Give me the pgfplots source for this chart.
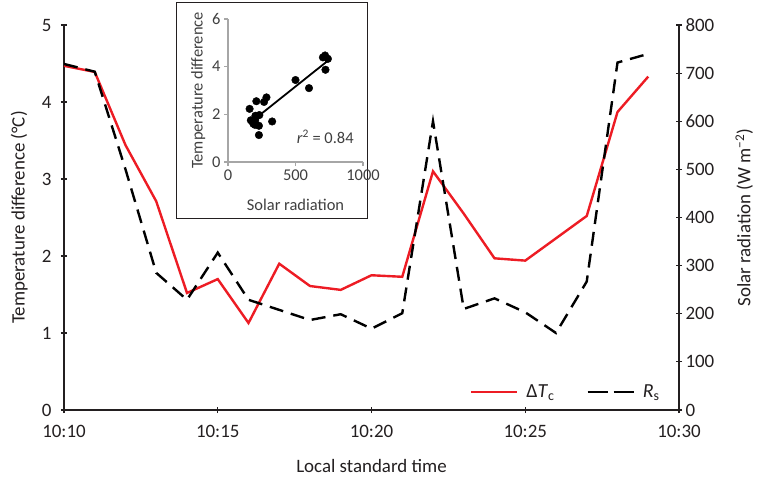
\documentclass[border=0pt]{standalone}
\usepackage{pgfplots}
\pgfplotsset{compat=1.18}
\usepackage{pgfplotstable}
\usepackage{fontspec}
\setmainfont{Carlito}

\definecolor{tcred}{RGB}{237,28,36}
\definecolor{axgray}{RGB}{35,31,32}
\definecolor{insetgray}{RGB}{166,166,166}
\definecolor{insettext}{RGB}{64,64,64}

% minute after 10:10, temperature difference (C), solar radiation (W m-2)
\pgfplotstableread{
t  dT   Rs
0  4.47 719
1  4.39 703
2  3.44 500
3  2.71 285
4  1.52 229
5  1.70 327
6  1.13 229
7  1.90 208
8  1.61 187
9  1.56 199
10 1.75 169
11 1.73 201
12 3.10 600
13 2.55 210
14 1.97 232
15 1.94 203
16 2.23 160
17 2.52 267
18 3.87 722
19 4.33 740
}\obs

\begin{document}
\begin{tikzpicture}
\pgfplotsset{
  mainax/.style={
    scale only axis, width=615bp, height=385bp,
    xmin=0, xmax=20,
    axis line style={axgray, line width=1.2bp},
    tick style={axgray, line width=1.2bp},
    tick align=outside, major tick length=6bp,
    tick label style={font=\fontsize{19}{23}\selectfont, text=axgray},
    /pgf/number format/assume math mode=true,
  },
}
\begin{axis}[mainax,
  axis x line=bottom, axis y line=left,
  x axis line style={-}, y axis line style={-},
  ymin=0, ymax=5, ytick={0,1,...,5},
  xtick={0,5,10,15,20},
  xticklabels={10:10,10:15,10:20,10:25,10:30},
  xticklabel style={yshift=-9bp},
  yticklabel style={xshift=-6bp},
  xlabel={Local standard time},
  ylabel={Temperature difference (°C)},
  every axis x label/.style={at={(axis description cs:0.5,-0.145)}, anchor=center,
    font=\fontsize{19}{23}\selectfont, text=axgray},
  every axis y label/.style={at={(axis description cs:-0.073,0.5)}, anchor=center, rotate=90,
    font=\fontsize{19}{23}\selectfont, text=axgray},
]
\addplot[tcred, line width=2.4bp] table[x=t, y=dT] {\obs};
\end{axis}

\begin{axis}[mainax,
  axis x line=none, axis y line=right,
  y axis line style={-},
  ymin=0, ymax=800, ytick={0,100,...,800},
  ylabel={Solar radiation (W m\textsuperscript{−2})},
  every axis y label/.style={at={(axis description cs:1.106,0.5)}, anchor=center, rotate=90,
    font=\fontsize{19}{23}\selectfont, text=axgray},
  legend style={at={(axis description cs:0.977,0.047)}, anchor=east,
    draw=none, fill=none, font=\fontsize{20}{24}\selectfont, text=axgray,
    legend columns=2, /tikz/every even column/.append style={column sep=30bp}},
  legend image code/.code={\draw[#1] (0bp,0bp) -- (46bp,0bp); \path (52bp,0bp);},
]
\addlegendimage{tcred, line width=2.4bp}
\addlegendentry{Δ\textit{T}\textsubscript{c}}
\addplot[black, line width=2.4bp, dash pattern=on 14bp off 8bp, forget plot] table[x=t, y=Rs] {\obs};
\addlegendimage{black, line width=2.4bp, dash pattern=on 20bp off 6bp}
\addlegendentry{\textit{R}\textsubscript{s}}
\end{axis}

\draw[axgray, line width=1bp, fill=white] (112bp,191bp) rectangle (303bp,407bp);

\begin{axis}[
  at={(164bp,248bp)}, anchor=south west,
  scale only axis, width=135bp, height=143bp,
  xmin=0, xmax=1000, ymin=0, ymax=6,
  xtick={0,500,1000}, ytick={0,2,4,6},
  axis x line=bottom, axis y line=left,
  axis line style={-, insetgray, line width=2.5bp},
  tick style={insetgray, line width=1.5bp},
  tick align=outside, major tick length=4bp,
  tick label style={font=\fontsize{16.5}{20}\selectfont, text=insettext},
  /pgf/number format/assume math mode=true,
  /pgf/number format/1000 sep={},
  xlabel={Solar radiation},
  ylabel={Temperature difference},
  every axis x label/.style={at={(axis description cs:0.5,-0.3)}, anchor=center,
    font=\fontsize{16.5}{20}\selectfont, text=insettext},
  every axis y label/.style={at={(axis description cs:-0.22,0.5)}, anchor=center, rotate=90,
    font=\fontsize{16.5}{20}\selectfont, text=insettext},
]
\addplot[only marks, mark=*, mark size=3.8bp, black] table[x=Rs, y=dT] {\obs};
\addplot[black, line width=1.8bp] coordinates {(235,1.97) (740,4.25)};
\node[font=\fontsize{16.5}{20}\selectfont, text=insettext] at (axis cs:720,1.05) {\textit{r}\textsuperscript{2} = 0.84};
\end{axis}

\pgfresetboundingbox
\path (-64bp,-67bp) rectangle (694bp,410bp);
\end{tikzpicture}
\end{document}
